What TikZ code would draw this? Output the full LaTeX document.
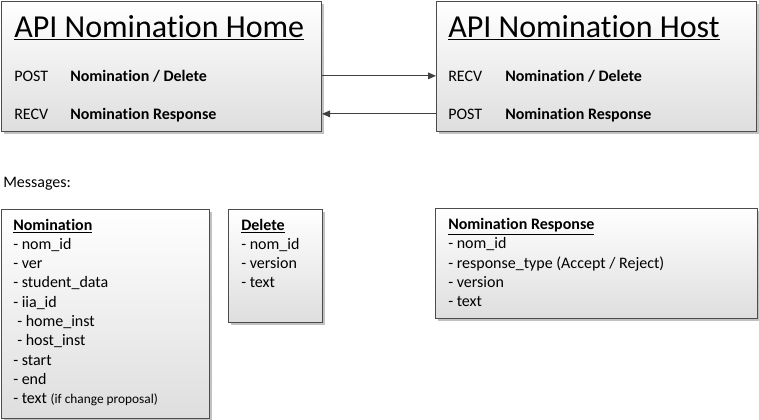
\documentclass[tikz,border=0pt]{standalone}
\usepackage{fontspec}
\setmainfont{Carlito}[Ligatures={NoCommon}]
\usetikzlibrary{positioning,shadows,arrows.meta}

\tikzset{
  box/.style={draw=black!70, line width=0.75pt, top color=white, bottom color=black!13,
    drop shadow={shadow xshift=1.5pt, shadow yshift=-1.5pt, fill=black!30, opacity=0.8},
    inner sep=0pt, anchor=north west},
  apititle/.style={font=\fontsize{24}{28}\selectfont, anchor=base west, inner sep=0pt},
  verb/.style={font=\fontsize{12}{14}\selectfont, anchor=base west, inner sep=0pt},
  msg/.style={font=\fontsize{12}{14}\selectfont\bfseries, anchor=base west, inner sep=0pt},
  field/.style={font=\fontsize{12}{14}\selectfont, anchor=base west, inner sep=0pt},
  link/.style={draw=black!75, line width=0.75pt, -{Triangle[length=6pt,width=5pt]}}
}

\begin{document}
\begin{tikzpicture}[x=0.75pt,y=-0.75pt]
\useasboundingbox (0,0) rectangle (759,419);

% the two APIs
\node[box, minimum width=240pt, minimum height=97.5pt] (home) at (1,1) {};
\node[box, minimum width=240pt, minimum height=97.5pt] (host) at (436,1) {};

\node[apititle] (hometitle) at (14,37) {\underline{API Nomination Home}};
\node[verb] (homepost) at (14,81) {POST};
\node[msg] (homepostmsg) at (70,81) {Nomination / Delete};
\node[verb] (homerecv) at (14,119) {RECV};
\node[msg] (homerecvmsg) at (70,119) {Nomination Response};

\node[apititle] (hosttitle) at (448,37) {\underline{API Nomination Host}};
\node[verb] (hostrecv) at (448,81) {RECV};
\node[msg] (hostrecvmsg) at (505,81) {Nomination / Delete};
\node[verb] (hostpost) at (448,119) {POST};
\node[msg] (hostpostmsg) at (505,119) {Nomination Response};

\draw[link] (home.east |- homepost.center) -- (host.west |- homepost.center);
\draw[link] (host.west |- hostpost.center) -- (home.east |- hostpost.center);

% messages
\node[field] (messages) at (3,187) {Messages:};

\node[box, minimum width=156pt, minimum height=156.75pt] (nom) at (1,209) {};
\node[box, minimum width=70.5pt, minimum height=84.75pt] (del) at (228,209) {};
\node[box, minimum width=241.5pt, minimum height=82.5pt] (resp) at (435,208) {};

\node[msg] (nomtitle) at (13,230) {\underline{Nomination}};
\foreach \f [count=\i] in {- nom\_id, - ver, - student\_data, - iia\_id,
    \hspace{3pt}- home\_inst, \hspace{3pt}- host\_inst, - start, - end,
    {- text {\fontsize{10}{12}\selectfont(if change proposal)}}}
  \node[field] (nomf\i) at (13,230+19.3*\i) {\f};

\node[msg] (deltitle) at (241,230) {\underline{Delete}};
\foreach \f [count=\i] in {- nom\_id, - version, - text}
  \node[field] (delf\i) at (241,230+19.3*\i) {\f};

\node[msg] (resptitle) at (448,229.5) {\underline{Nomination Response}};
\foreach \f [count=\i] in {- nom\_id, - response\_type (Accept / Reject), - version, - text}
  \node[field] (respf\i) at (448,229.5+19.3*\i) {\f};
\end{tikzpicture}
\end{document}
